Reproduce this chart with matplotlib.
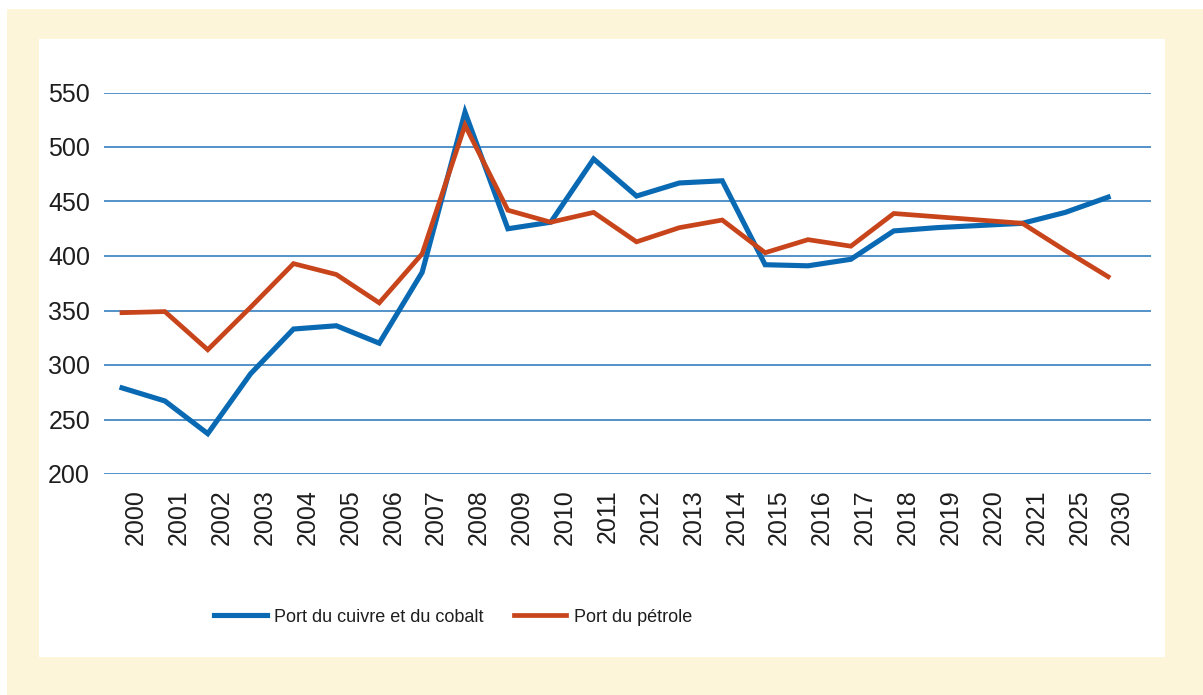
import matplotlib
matplotlib.use("Agg")
import matplotlib.pyplot as plt
import matplotlib.transforms as mtransforms
from matplotlib.patches import Rectangle

# data
years = ["2000", "2001", "2002", "2003", "2004", "2005", "2006", "2007", "2008",
         "2009", "2010", "2011", "2012", "2013", "2014", "2015", "2016", "2017",
         "2018", "2019", "2020", "2021", "2025", "2030"]
cuivre_cobalt = [279, 267, 237, 292, 333, 336, 320, 385, 532, 425, 431, 489, 455,
                 467, 469, 392, 391, 397, 423, 426, 428, 430, 440, 454]
petrole = [348, 349, 314, 353, 393, 383, 357, 402, 520, 442, 431, 440, 413,
           426, 433, 403, 415, 409, 439, 436, 433, 430, 405, 381]
y_ticks = [200, 250, 300, 350, 400, 450, 500, 550]

blue = "#0a69b3"
orange = "#c8441b"
cream = "#fdf5da"

plt.rcParams['font.family'] = ['Liberation Sans', 'DejaVu Sans']

W, H = 1203, 695
fig = plt.figure(figsize=(W / 100, H / 100), dpi=100)
fig.patch.set_facecolor("white")

# cream frame and white panel
fig.patches.append(Rectangle((7 / W, 0), 1 - 7 / W, 1 - 9 / H, transform=fig.transFigure,
                             facecolor=cream, edgecolor="none", zorder=-2))
fig.patches.append(Rectangle((39 / W, 1 - 657 / H), (1165 - 39) / W, (657 - 39) / H,
                             transform=fig.transFigure, facecolor="white",
                             edgecolor="none", zorder=-1))

left, right = 104 / W, 1151 / W
bottom, top = 1 - 474 / H, 1 - 92.5 / H
ax = fig.add_axes([left, bottom, right - left, top - bottom])
ax.set_facecolor("none")

x = list(range(len(years)))
ax.plot(x, cuivre_cobalt, color=blue, lw=3.7, label="Port du cuivre et du cobalt",
        solid_joinstyle="miter", zorder=3)
ax.plot(x, petrole, color=orange, lw=3.4, label="Port du pétrole",
        solid_joinstyle="miter", zorder=4)

ax.set_ylim(200, 550)
ax.set_xlim(-0.42, 24.0)
ax.set_yticks(y_ticks)
ax.set_yticklabels([str(v) for v in y_ticks])
for v in y_ticks:
    ax.axhline(v, color="#2474bb", lw=1.1, zorder=1)

ax.set_xticks(x)
ax.set_xticklabels(years, rotation=90)
ax.tick_params(axis="both", length=0, labelsize=18, labelcolor="#1e1e1e")
ax.tick_params(axis="y", pad=10)
ax.tick_params(axis="x", pad=11)
offset = mtransforms.ScaledTranslation(14 / 100, 0, fig.dpi_scale_trans)
for lab in ax.get_xticklabels():
    lab.set_transform(lab.get_transform() + offset)

for s in ax.spines.values():
    s.set_visible(False)

leg = fig.legend(loc="center", bbox_to_anchor=(453 / W, 1 - 617 / H), ncol=2,
                 frameon=False, handlelength=2.9, handletextpad=0.4,
                 columnspacing=1.7, prop={"size": 13})
for t in leg.get_texts():
    t.set_color("#1e1e1e")

fig.savefig("out.png", dpi=100, facecolor=fig.get_facecolor())
